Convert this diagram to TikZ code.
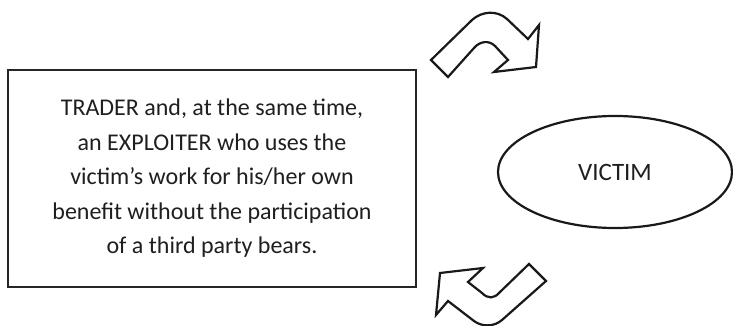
\documentclass[tikz,border=0pt]{standalone}
\usepackage{fontspec}
\setmainfont{Carlito}
\usepackage{tikz}
\usetikzlibrary{shapes.geometric}
\tikzset{
  rolebox/.style={rectangle, draw=black!85, line width=2.6pt, fill=white,
    minimum width=408, minimum height=217, align=center, inner sep=0pt,
    font=\fontsize{24}{34.5}\selectfont, text=black!88},
  roleellipse/.style={ellipse, draw=black!90, line width=2.2pt, fill=white,
    minimum width=234, minimum height=112, inner sep=0pt,
    font=\fontsize{25}{30}\selectfont, text=black!88},
  bentarrow/.style={draw=black!90, line width=2.2pt, fill=white, line join=miter}
}

\begin{document}
\begin{tikzpicture}[x=1pt, y=-1pt]
  \useasboundingbox (0,0) rectangle (733,326);

  \node[rolebox] (trader) at (212,178.5) {TRADER and, at the same time,\\ an EXPLOITER who uses the\\ victim's work for his/her own\\ benefit without the participation\\ of a third party bears.};
  \node[roleellipse] (victim) at (615,172) {\raisebox{-2pt}{VICTIM}};

  % curved block arrows between trader and victim
  \draw[bentarrow] (431,60) -- (472,20) .. controls (482,11) and (497,10) .. (507,19)
    -- (528,39) -- (539,25) -- (536,67) -- (494,72) -- (508,60) -- (495,46)
    .. controls (489,40) and (480,41) .. (474,48) -- (448,77) -- cycle;
  \draw[bentarrow] (546,281) -- (529,264) -- (500,292) .. controls (494,299) and (488,299) .. (482,293)
    -- (468,282) -- (483,268) -- (440,273) -- (436,315) -- (448,301) -- (474,321)
    .. controls (482,327) and (494,327) .. (502,320) -- cycle;
\end{tikzpicture}
\end{document}
